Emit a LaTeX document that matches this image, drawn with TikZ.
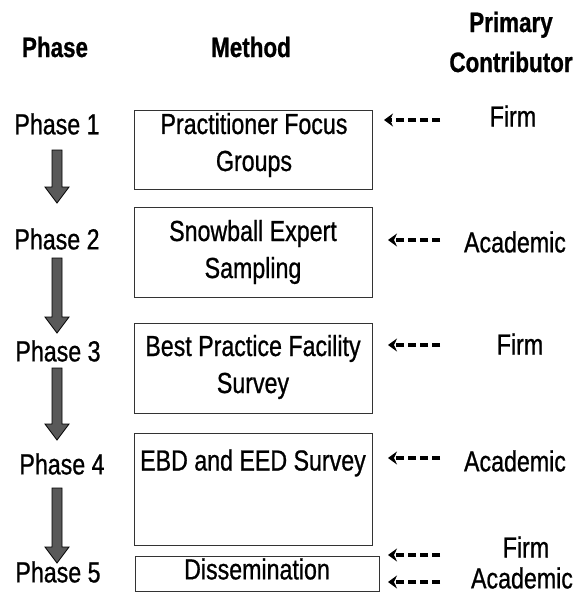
\documentclass[tikz,border=0pt]{standalone}
\usepackage{fontspec}
\setmainfont{Liberation Sans}[FakeStretch=0.8,FakeBold=0.8]
\usetikzlibrary{arrows.meta}
\begin{document}
\begin{tikzpicture}[x=1pt,y=-1pt,
  txt/.style={inner sep=0pt,font=\fontsize{29}{37}\selectfont,align=center},
  hdr/.style={txt,font=\fontsize{28}{40}\selectfont\bfseries},
  mbox/.style={draw=black!80,line width=1.4pt,inner sep=0pt,anchor=north west},
  contrib/.style={line width=3.2pt,dash pattern=on 8pt off 4pt,-{Stealth[length=9pt,width=13pt,inset=3pt]}},
  downarr/.style={fill=black!65,draw=black,line width=0.8pt}]
\useasboundingbox (0,0) rectangle (582,594);
% headers
\node[hdr] (hphase) at (55,47) {Phase};
\node[hdr] (hmethod) at (251,47) {Method};
\node[hdr] (hcontrib) at (511,42) {Primary\\Contributor};
% phases
\node[txt] (p1) at (57,124) {Phase 1};
\node[txt] (p2) at (57,239) {Phase 2};
\node[txt] (p3) at (58,351) {Phase 3};
\node[txt] (p4) at (62,464) {Phase 4};
\node[txt] (p5) at (58,572) {Phase 5};
% boxes
\node[mbox,minimum width=238pt,minimum height=79pt] (b1) at (134,110) {};
\node[mbox,minimum width=238pt,minimum height=90pt] (b2) at (134,207) {};
\node[mbox,minimum width=238pt,minimum height=90pt] (b3) at (134,323) {};
\node[mbox,minimum width=238pt,minimum height=112pt] (b4) at (134,433) {};
\node[mbox,minimum width=244pt,minimum height=35pt] (b5) at (135,556) {};
\node[txt] (t1) at (254,145) {Practitioner Focus\\Groups};
\node[txt] (t2) at (253,252) {Snowball Expert\\Sampling};
\node[txt] (t3) at (253,367) {Best Practice Facility\\Survey};
\node[txt] (t4) at (253,463) {EBD and EED Survey};
\node[txt] (t5) at (257,569) {Dissemination};
% contributors
\node[txt] (c1) at (513,116) {Firm};
\node[txt] (c2) at (515,242) {Academic};
\node[txt] (c3) at (520,344) {Firm};
\node[txt] (c4) at (515,461) {Academic};
\node[txt] (c5a) at (526,547) {Firm};
\node[txt] (c5b) at (522,578) {Academic};
% dashed arrows
\coordinate (s1) at (440,120); \coordinate (e1) at (384,120);
\coordinate (s2) at (440,240); \coordinate (e2) at (388,240);
\coordinate (s3) at (440,345); \coordinate (e3) at (388,345);
\coordinate (s4) at (440,458); \coordinate (e4) at (388,458);
\coordinate (s5a) at (440,555); \coordinate (e5a) at (388,555);
\coordinate (s5b) at (440,582); \coordinate (e5b) at (388,582);
\foreach \i in {1,2,3,4,5a,5b} \draw[contrib] (s\i) -- (e\i);
% down arrows
\foreach \top/\bot in {150/203, 258/333, 368/440, 488/563}{
  \draw[downarr] (52,\top) -- (62,\top) -- (62,\bot-16) -- (69,\bot-16) -- (57,\bot) -- (45,\bot-16) -- (52,\bot-16) -- cycle;
}
\end{tikzpicture}
\end{document}
